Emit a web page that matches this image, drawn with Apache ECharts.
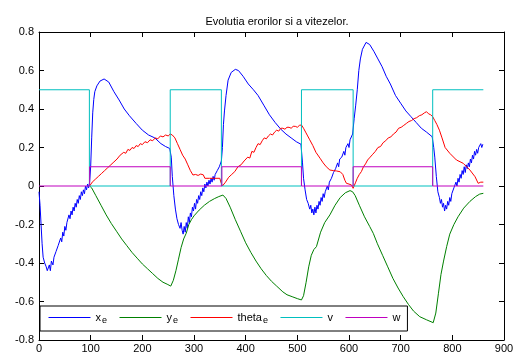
<!DOCTYPE html>
<html>
<head>
<meta charset="utf-8">
<script src="https://cdn.jsdelivr.net/npm/echarts@6/dist/echarts.min.js"></script>
<style>
  html, body { margin: 0; padding: 0; background: #fff; }
  #chart { width: 518px; height: 356px; }
</style>
</head>
<body>
<div id="chart"></div>
<script>
// axis ticks
const xTicks = [0, 100, 200, 300, 400, 500, 600, 700, 800, 900];
const yTicks = [-0.8, -0.6, -0.4, -0.2, 0, 0.2, 0.4, 0.6, 0.8];

const seriesNames = ['xe', 'ye', 'thetae', 'v', 'w'];

// x_e : eroare pe x  [t, valoare]
const xeData = [
  [0, -0.03], [2, -0.1], [4, -0.2], [6, -0.3], [8, -0.37], [11, -0.4], [14, -0.42], [16, -0.44], [18, -0.45],
  [20, -0.41], [22, -0.44], [24, -0.39], [27, -0.41], [29, -0.37], [31, -0.38], [33, -0.34], [35, -0.35],
  [37, -0.31], [40, -0.32], [42, -0.27], [44, -0.29], [46, -0.24], [48, -0.26], [50, -0.21], [52, -0.23],
  [54, -0.19], [56, -0.2], [58, -0.15], [60, -0.17], [62, -0.13], [64, -0.15], [66, -0.11], [68, -0.13],
  [70, -0.09], [72, -0.11], [74, -0.07], [76, -0.09], [78, -0.05], [80, -0.07], [82, -0.03], [84, -0.05],
  [86, -0.02], [88, -0.04], [90, 0.0], [92, -0.02], [94, 0.01], [96, -0.01], [98, 0.02], [100, 0.1],
  [102, 0.25], [104, 0.38], [106, 0.45], [108, 0.49], [112, 0.52], [118, 0.545], [126, 0.556], [135, 0.54],
  [145, 0.49], [155, 0.447], [165, 0.4], [175, 0.365], [188, 0.325], [200, 0.29], [212, 0.265], [224, 0.25],
  [236, 0.22], [245, 0.205], [253, 0.195],
  [255, 0.19], [256, 0.15], [258, 0.05], [261, -0.05], [264, -0.12], [267, -0.17], [270, -0.2], [273, -0.22],
  [275, -0.19], [277, -0.23], [279, -0.25], [281, -0.21], [283, -0.24], [285, -0.19], [287, -0.22], [289, -0.16],
  [291, -0.19], [293, -0.14], [295, -0.16], [297, -0.11], [299, -0.13], [301, -0.09], [303, -0.12], [305, -0.07],
  [307, -0.09], [309, -0.05], [311, -0.07], [313, -0.03], [315, -0.05], [317, -0.01], [319, -0.03], [321, 0.01],
  [323, -0.01], [325, 0.02], [327, 0.0], [329, 0.03], [331, 0.01], [333, 0.04], [335, 0.02], [337, 0.05],
  [339, 0.03], [341, 0.06], [343, 0.05], [345, 0.08], [347, 0.07], [349, 0.1], [351, 0.09], [353, 0.13],
  [355, 0.2], [357, 0.32], [359, 0.39], [362, 0.47], [366, 0.55], [372, 0.59], [380, 0.606], [386, 0.6],
  [395, 0.57], [405, 0.53], [415, 0.5], [424, 0.47], [435, 0.42], [446, 0.37], [457, 0.33], [468, 0.295],
  [478, 0.27], [488, 0.25], [498, 0.23], [507, 0.217],
  [508, 0.21], [510, 0.12], [512, 0.04], [515, -0.02], [518, -0.07], [521, -0.09], [524, -0.12], [526, -0.1],
  [528, -0.14], [530, -0.12], [532, -0.15], [534, -0.11], [536, -0.14], [538, -0.1], [540, -0.12], [542, -0.08],
  [544, -0.1], [546, -0.06], [548, -0.08], [550, -0.04], [552, -0.06], [554, -0.03], [556, -0.04], [558, 0.0],
  [560, -0.02], [562, 0.02], [564, 0.01], [566, 0.04], [568, 0.03], [570, 0.07], [572, 0.06], [574, 0.09],
  [576, 0.08], [578, 0.12], [580, 0.1], [582, 0.14], [584, 0.13], [586, 0.15], [588, 0.14], [590, 0.18],
  [592, 0.16], [594, 0.2], [596, 0.19], [598, 0.22], [600, 0.2], [602, 0.24], [604, 0.23], [607, 0.27],
  [610, 0.35], [613, 0.42], [616, 0.5], [619, 0.6], [622, 0.66], [626, 0.71], [633, 0.746], [640, 0.735],
  [648, 0.7], [656, 0.66], [664, 0.62], [672, 0.57], [680, 0.53], [690, 0.47], [700, 0.43], [710, 0.39],
  [720, 0.36], [730, 0.33], [740, 0.3], [750, 0.28], [761, 0.256],
  [762, 0.25], [764, 0.2], [766, 0.15], [769, 0.05], [772, -0.03], [775, -0.06], [777, -0.09], [779, -0.07],
  [781, -0.11], [783, -0.09], [785, -0.13], [787, -0.1], [789, -0.12], [791, -0.08], [793, -0.1], [795, -0.06],
  [797, -0.08], [799, -0.04], [801, -0.05], [803, -0.01], [805, -0.02], [807, 0.02], [809, 0.0], [811, 0.04],
  [813, 0.02], [815, 0.06], [817, 0.04], [819, 0.08], [821, 0.06], [823, 0.1], [825, 0.07], [827, 0.11],
  [829, 0.09], [831, 0.12], [833, 0.1], [835, 0.14], [837, 0.12], [839, 0.16], [841, 0.14], [843, 0.18],
  [845, 0.16], [847, 0.19], [849, 0.17], [851, 0.2], [853, 0.19], [855, 0.22], [857, 0.2], [859, 0.217]
];

// y_e : eroare pe y (inainte de t=98 este 0, acoperita de w)
const yeData = [
  [98, 0], [102, -0.01], [110, -0.05], [120, -0.1], [130, -0.15], [140, -0.195], [150, -0.235],
  [160, -0.275], [170, -0.31], [180, -0.345], [190, -0.375], [200, -0.405], [210, -0.43], [220, -0.455],
  [230, -0.48], [240, -0.5], [248, -0.51], [255, -0.52], [260, -0.49], [265, -0.44], [270, -0.38], [275, -0.32],
  [280, -0.275], [285, -0.245], [290, -0.2], [295, -0.175], [300, -0.155], [310, -0.125], [320, -0.1],
  [330, -0.08], [340, -0.065], [348, -0.055], [356, -0.047], [362, -0.065], [370, -0.11], [380, -0.175],
  [390, -0.235], [400, -0.295], [410, -0.345], [420, -0.39], [430, -0.43], [440, -0.465], [450, -0.495],
  [460, -0.52], [472, -0.55], [480, -0.565], [490, -0.575], [500, -0.585], [508, -0.592], [512, -0.57],
  [517, -0.5], [522, -0.42], [527, -0.36], [532, -0.33], [537, -0.315], [545, -0.24], [553, -0.19],
  [563, -0.15], [573, -0.1], [583, -0.06], [593, -0.035], [602, -0.024], [607, -0.03], [612, -0.05],
  [620, -0.1], [630, -0.16], [640, -0.21], [647, -0.246], [655, -0.3], [665, -0.36], [675, -0.42],
  [685, -0.48], [695, -0.53], [705, -0.575], [715, -0.615], [725, -0.65], [737, -0.679], [750, -0.695],
  [763, -0.71], [768, -0.66], [773, -0.56], [778, -0.46], [783, -0.39], [789, -0.315], [795, -0.25],
  [803, -0.2], [811, -0.16], [822, -0.115], [834, -0.08], [845, -0.055], [853, -0.042], [860, -0.038]
];

// theta_e : eroare de orientare (inainte de t=98 este 0, acoperita de w)
const thetaeData = [
  [98, 0], [100, 0.01], [103, 0.02], [106, 0.015], [109, 0.035], [112, 0.03], [115, 0.05], [118, 0.045],
  [121, 0.065], [124, 0.06], [127, 0.08], [130, 0.075], [133, 0.095], [136, 0.09], [139, 0.11], [142, 0.105],
  [145, 0.125], [148, 0.12], [151, 0.14], [154, 0.135], [157, 0.16], [160, 0.155], [164, 0.175], [168, 0.17],
  [172, 0.19], [176, 0.185], [180, 0.2], [184, 0.195], [188, 0.21], [192, 0.205], [196, 0.22], [200, 0.215],
  [205, 0.23], [210, 0.225], [215, 0.24], [220, 0.235], [225, 0.25], [230, 0.245], [235, 0.26], [240, 0.255],
  [245, 0.265], [250, 0.26], [254, 0.27], [258, 0.265], [263, 0.25], [268, 0.22], [273, 0.19], [278, 0.16],
  [283, 0.14], [288, 0.11], [293, 0.08], [298, 0.057], [303, 0.06], [308, 0.055], [313, 0.062], [318, 0.058],
  [321, 0.04], [330, 0.04], [340, 0.04], [350, 0.04], [352, 0.02], [355, 0.0], [358, -0.005],
  [361, 0.02], [364, 0.025], [367, 0.045], [370, 0.04], [373, 0.06], [376, 0.055], [379, 0.075], [382, 0.07],
  [385, 0.1], [388, 0.095], [391, 0.11], [394, 0.105], [397, 0.13], [400, 0.14], [404, 0.15], [408, 0.145],
  [412, 0.18], [416, 0.175], [420, 0.2], [424, 0.22], [428, 0.215], [432, 0.235], [436, 0.25], [440, 0.245],
  [444, 0.26], [448, 0.27], [452, 0.265], [456, 0.28], [460, 0.29], [464, 0.285], [468, 0.3], [472, 0.3],
  [476, 0.295], [480, 0.305], [484, 0.305], [488, 0.3], [492, 0.31], [496, 0.31], [500, 0.305], [504, 0.315],
  [508, 0.317], [512, 0.3], [516, 0.28], [520, 0.26], [524, 0.24], [530, 0.21], [536, 0.175], [544, 0.144],
  [550, 0.12], [556, 0.1], [563, 0.083], [570, 0.08], [576, 0.078], [583, 0.074], [588, 0.06], [592, 0.03],
  [595, 0.014], [600, 0.01], [605, 0.005], [608, -0.012], [610, -0.005],
  [613, 0.02], [616, 0.04], [620, 0.06], [624, 0.075], [628, 0.1], [632, 0.115], [636, 0.135], [641, 0.15],
  [646, 0.165], [651, 0.18], [656, 0.2], [661, 0.205], [666, 0.225], [671, 0.235], [676, 0.25], [681, 0.255],
  [686, 0.27], [691, 0.28], [696, 0.3], [701, 0.305], [706, 0.315], [711, 0.325], [716, 0.335], [721, 0.34],
  [726, 0.35], [731, 0.355], [736, 0.365], [741, 0.37], [746, 0.38], [750, 0.386], [754, 0.375], [758, 0.37],
  [762, 0.36], [766, 0.34], [770, 0.32], [775, 0.29], [780, 0.25], [786, 0.2], [795, 0.17], [808, 0.135],
  [821, 0.118], [834, 0.083], [844, 0.048], [850, 0.014], [855, 0.02], [860, 0.02]
];

// v : viteza liniara (treapta)
const vData = [
  [0, 0.5], [97.5, 0.5], [97.5, 0], [254, 0], [254, 0.5], [353, 0.5], [353, 0], [508, 0], [508, 0.5],
  [608, 0.5], [608, 0], [762, 0], [762, 0.5], [860, 0.5]
];

// w : viteza unghiulara (treapta)
const wData = [
  [0, 0], [98, 0], [98, 0.1], [254, 0.1], [254, 0], [354, 0], [354, 0.1], [508, 0.1], [508, 0],
  [608, 0], [608, 0.1], [762, 0.1], [762, 0], [860, 0]
];

const colors = ['#0000ff', '#008000', '#ff0000', '#00bfbf', '#bf00bf'];
const allData = [xeData, yeData, thetaeData, vData, wData];

const chart = echarts.init(document.getElementById('chart'));

// axe cu chenar complet, fara a trece prin zero
function axisCommon() {
  return {
    axisLine: { show: true, onZero: false, lineStyle: { color: '#000', width: 1 } },
    axisTick: { show: true, inside: true, length: 5, lineStyle: { color: '#000' } },
    splitLine: { show: false },
  };
}

const option = {
  animation: false,
  backgroundColor: '#fff',
  color: colors,
  title: {
    text: 'Evolutia erorilor si a vitezelor.',
    left: 272,
    textAlign: 'center',
    top: 11,
    textStyle: { fontFamily: 'Liberation Sans', fontSize: 11, fontWeight: 'normal', color: '#000' },
  },
  grid: { left: 39, right: 14, top: 32, bottom: 16 },
  legend: {
    // linie colorata, fara simbol
    data: seriesNames.map(function (name, i) {
      return {
        name: name,
        lineStyle: { color: colors[i], width: 1, opacity: 1 },
        itemStyle: { color: colors[i], opacity: 0 },
      };
    }),
    left: 40,
    top: 306,
    itemWidth: 42,
    itemHeight: 3,
    itemGap: 12,
    padding: [6, 7, 6, 8],
    borderColor: '#000',
    borderWidth: 1,
    backgroundColor: '#fff',
    // indici: x_e, y_e, theta_e
    formatter: function (name) {
      if (name.length > 1 && name.slice(-1) === 'e') {
        return '{b|' + name.slice(0, -1) + '}{s|e}';
      }
      return '{b|' + name + '}';
    },
    textStyle: {
      rich: {
        b: { fontFamily: 'Liberation Sans', fontSize: 11, color: '#000' },
        s: { fontFamily: 'Liberation Sans', fontSize: 9, color: '#000', padding: [6, 0, 0, 1] },
      },
    },
  },
  xAxis: [
    Object.assign({
      type: 'value', min: 0, max: 900, interval: 100, position: 'bottom',
      axisLabel: { color: '#000', fontFamily: 'Liberation Sans', fontSize: 11, margin: 3 },
    }, axisCommon()),
    Object.assign({
      type: 'value', min: 0, max: 900, interval: 100, position: 'top',
      axisLabel: { show: false },
    }, axisCommon()),
  ],
  yAxis: [
    Object.assign({
      type: 'value', min: -0.8, max: 0.8, interval: 0.2, position: 'left',
      axisLabel: { color: '#000', fontFamily: 'Liberation Sans', fontSize: 11, margin: 5 },
    }, axisCommon()),
    Object.assign({
      type: 'value', min: -0.8, max: 0.8, interval: 0.2, position: 'right',
      axisLabel: { show: false },
    }, axisCommon()),
  ],
  series: seriesNames.map(function (name, i) {
    return {
      name: name,
      type: 'line',
      data: allData[i],
      symbol: 'none',
      z: 2 + i,
      color: colors[i],
      lineStyle: { color: colors[i], width: 1 },
      itemStyle: { color: colors[i] },
    };
  }),
};

chart.setOption(option);
</script>
</body>
</html>
